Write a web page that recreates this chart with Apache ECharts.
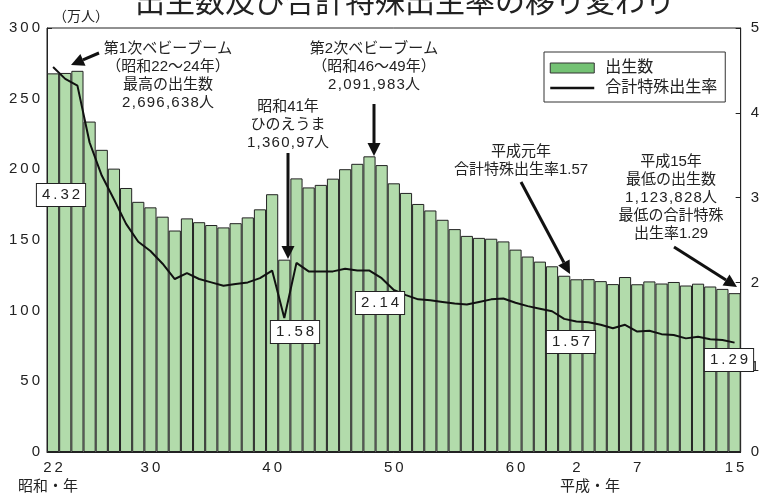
<!DOCTYPE html>
<html>
<head>
<meta charset="utf-8">
<script src="https://cdn.jsdelivr.net/npm/echarts@6/dist/echarts.min.js"></script>
<style>html,body{margin:0;padding:0;background:#fff}#main{width:762px;height:498px}</style>
</head>
<body>
<div id="main"></div>
<script>
// 年（昭和22年〜平成15年）
var years = ['22','23','24','25','26','27','28','29','30','31','32','33','34','35','36','37','38','39','40','41',
    '42','43','44','45','46','47','48','49','50','51','52','53','54','55','56','57','58','59','60','61','62','63',
    '元','2','3','4','5','6','7','8','9','10','11','12','13','14','15'];
var shownYears = ['22','30','40','50','60','2','7','15'];
// 出生数（万人）
var births = [267.9,268.2,269.7,233.8,213.8,200.5,186.8,177.0,173.1,166.5,
    156.7,165.3,162.6,160.6,158.9,161.9,166.0,171.7,182.4,136.1,
    193.6,187.2,189.0,193.4,200.1,203.9,209.2,203.0,190.1,183.3,
    175.5,170.9,164.3,157.7,152.9,151.5,150.9,149.0,143.2,138.3,
    134.7,131.4,124.7,122.2,122.3,120.9,118.8,123.8,118.7,120.7,
    119.2,120.3,117.8,119.1,117.1,115.4,112.4];
// 合計特殊出生率
var tfr = [4.54,4.40,4.32,3.65,3.26,2.98,2.69,2.48,2.37,2.22,
    2.04,2.11,2.04,2.00,1.96,1.98,2.00,2.05,2.14,1.58,
    2.23,2.13,2.13,2.13,2.16,2.14,2.14,2.05,1.91,1.85,
    1.80,1.79,1.77,1.75,1.74,1.77,1.80,1.81,1.76,1.72,
    1.69,1.66,1.57,1.54,1.53,1.50,1.46,1.50,1.42,1.43,
    1.39,1.38,1.34,1.36,1.33,1.32,1.29];

var FONT = '"Liberation Sans", "Noto Sans CJK JP", sans-serif';
var chart = echarts.init(document.getElementById('main'));

// 数字の字間をあける
function sp(s, c) {
    return String(s).split('').join(c || '\u2009');
}
// 矢印
function arrow(x1, y1, x2, y2) {
    var dx = x2 - x1, dy = y2 - y1, L = Math.sqrt(dx * dx + dy * dy);
    var ux = dx / L, uy = dy / L, h = 13, w = 6.5;
    var bx = x2 - ux * h, by = y2 - uy * h;
    return [
        {type: 'line', z: 100, shape: {x1: x1, y1: y1, x2: bx, y2: by}, style: {stroke: '#111', lineWidth: 3}},
        {type: 'polygon', z: 100, shape: {points: [[x2, y2], [bx - uy * w, by + ux * w], [bx + uy * w, by - ux * w]]}, style: {fill: '#111'}}
    ];
}
function note(x, y, text) {
    return {type: 'text', z: 100, x: x, y: y, style: {
        text: text, fill: '#222', fontSize: 15, fontFamily: FONT, align: 'center', verticalAlign: 'top', lineHeight: 18
    }};
}
function box(x, y, v) {
    return {type: 'text', z: 101, x: x, y: y, style: {
        text: sp(v.toFixed(2)), fill: '#222', fontSize: 15, fontFamily: FONT, align: 'center', verticalAlign: 'middle',
        backgroundColor: '#fff', borderColor: '#222', borderWidth: 1, padding: [4, 5, 3, 5]
    }};
}

var graphics = [
    {type: 'text', x: 405, y: 1, style: {text: '出生数及び合計特殊出生率の移り変わり', fill: '#222', fontSize: 30,
        fontFamily: '"Noto Sans CJK JP"', align: 'center', verticalAlign: 'middle'}},
    {type: 'text', x: 81, y: 17, style: {text: '（万人）', fill: '#222', fontSize: 14, fontFamily: FONT, align: 'center', verticalAlign: 'middle'}},
    {type: 'text', x: 48, y: 487, style: {text: '昭和・年', fill: '#222', fontSize: 15, fontFamily: FONT, align: 'center', verticalAlign: 'middle'}},
    {type: 'text', x: 590, y: 487, style: {text: '平成・年', fill: '#222', fontSize: 15, fontFamily: FONT, align: 'center', verticalAlign: 'middle'}},
    note(168, 40, '第1次ベビーブーム\n（昭和22～24年）\n最高の出生数\n' + sp('2,696,638', '\u200a') + '人'),
    note(374, 40, '第2次ベビーブーム\n（昭和46～49年）\n' + sp('2,091,983', '\u200a') + '人'),
    note(288, 98, '昭和41年\nひのえうま\n' + sp('1,360,97', '\u200a') + '人'),
    note(521, 143, '平成元年\n合計特殊出生率1.57'),
    note(671, 153, '平成15年\n最低の出生数\n' + sp('1,123,828', '\u200a') + '人\n最低の合計特殊\n出生率1.29'),
    box(61, 195, tfr[2]),
    box(295, 332, tfr[19]),
    box(380, 303, tfr[26]),
    box(571, 342, tfr[42]),
    box(729, 360, tfr[56])
].concat(arrow(99, 53, 71, 65), arrow(288, 153, 288, 259), arrow(374, 104, 374, 156),
    arrow(521, 182, 570, 274), arrow(674, 247, 737, 287));

var option = {
    animation: false,
    backgroundColor: '#fff',
    textStyle: {fontFamily: FONT},
    grid: {left: 47, right: 16, top: 28, bottom: 46, show: true, borderColor: '#222', borderWidth: 1, backgroundColor: 'transparent'},
    legend: {
        left: 544, top: 52, orient: 'vertical', padding: [8, 8, 6, 5], itemGap: 4,
        borderColor: '#333', borderWidth: 1, backgroundColor: '#fff',
        itemWidth: 44, itemHeight: 10,
        textStyle: {fontSize: 16, color: '#222', fontFamily: FONT, padding: [0, 0, 0, 6]},
        data: [
            {name: '出生数', icon: 'rect', itemStyle: {color: '#74c274', borderColor: '#333', borderWidth: 1}},
            {name: '合計特殊出生率', itemStyle: {color: 'transparent', borderWidth: 0, opacity: 0}, lineStyle: {color: '#111', width: 2.5}}
        ]
    },
    xAxis: {
        type: 'category', data: years,
        axisLine: {lineStyle: {color: '#222', width: 1}},
        axisTick: {show: false},
        axisLabel: {
            color: '#222', fontSize: 15, margin: 8,
            formatter: function (v) { return sp(v); },
            interval: function (i, v) { return shownYears.indexOf(v) >= 0; }
        }
    },
    yAxis: [
        {type: 'value', min: 0, max: 300, interval: 50,
            axisLine: {show: true, lineStyle: {color: '#222'}},
            axisTick: {show: true, inside: true, length: 5, lineStyle: {color: '#222'}},
            axisLabel: {color: '#222', fontSize: 15, margin: 7, formatter: function (v) { return sp(v); }},
            splitLine: {show: false}},
        {type: 'value', min: 0, max: 5, interval: 1, position: 'right',
            axisLine: {show: true, lineStyle: {color: '#222'}},
            axisTick: {show: true, inside: true, length: 5, lineStyle: {color: '#222'}},
            axisLabel: {color: '#222', fontSize: 15, margin: 10},
            splitLine: {show: false}}
    ],
    series: [
        {name: '出生数', type: 'bar', data: births, barCategoryGap: '0%',
            itemStyle: {color: '#b2dbab', borderColor: '#222', borderWidth: 1}},
        {name: '合計特殊出生率', type: 'line', yAxisIndex: 1, data: tfr, symbol: 'none', showSymbol: false,
            lineStyle: {color: '#111', width: 2}, itemStyle: {color: '#111'}, z: 5}
    ],
    graphic: graphics
};

chart.setOption(option);
</script>
</body>
</html>
